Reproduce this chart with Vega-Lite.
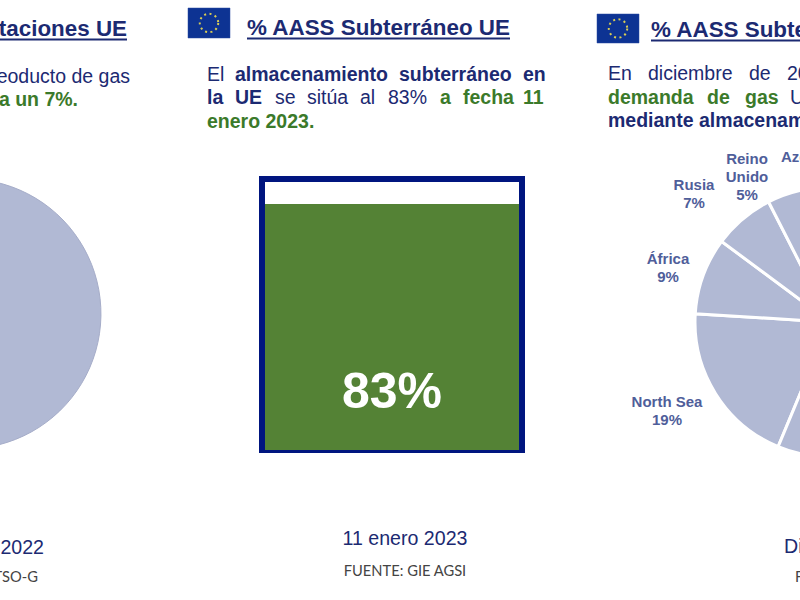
{"$schema":"https://vega.github.io/schema/vega-lite/v6.json","width":800,"height":600,"autosize":{"type":"none"},"padding":0,"background":"white","config":{"view":{"stroke":null},"text":{"font":"Liberation Sans"}},"datasets":{"flags":[{"at":188,"to":230,"line":8,"end":38},{"at":597,"to":639,"line":14,"end":43}],"rings":[{"at":209,"line":23},{"at":618,"line":28.5}],"underlines":[{"at":0,"to":127,"line":39.5},{"at":247,"to":510,"line":38.5},{"at":651,"to":810,"line":40.5}],"titlesL":[{"t":"% AASS Subterráneo UE","at":247,"line":28},{"t":"% AASS Subterráneo UE","at":651,"line":30}],"titlesR":[{"t":"% Importaciones UE","at":127,"line":29}],"navy":[{"t":"El","at":207,"line":75},{"t":"se","at":275,"line":98},{"t":"sitúa","at":307,"line":98},{"t":"al","at":360,"line":98},{"t":"83%","at":388,"line":98},{"t":"En","at":608,"line":74},{"t":"diciembre","at":648,"line":74},{"t":"de","at":749,"line":74},{"t":"2022","at":787,"line":74},{"t":"UE","at":790,"line":98}],"navyR":[{"t":"El gaseoducto de gas","at":130,"line":77}],"navyBold":[{"t":"almacenamiento","at":235,"line":75},{"t":"subterráneo","at":399,"line":75},{"t":"en","at":523,"line":75},{"t":"la","at":207,"line":98},{"t":"UE","at":235,"line":98},{"t":"mediante almacenamiento","at":608,"line":121}],"green":[{"t":"a","at":440,"line":98},{"t":"fecha","at":463,"line":98},{"t":"11","at":523,"line":98},{"t":"enero 2023.","at":207,"line":122},{"t":"demanda","at":608,"line":98},{"t":"de","at":707,"line":98},{"t":"gas","at":745,"line":98}],"greenR":[{"t":"representa un 7%.","at":78,"line":100}],"pieRight":[{"origen":"North Sea","from":0,"to":19.7},{"origen":"África","from":19.7,"to":28.9},{"origen":"Rusia","from":28.9,"to":36.2},{"origen":"Reino Unido","from":36.2,"to":41.2},{"origen":"Azerbaiyán","from":41.2,"to":100}],"pieLeft":[{"origen":"Total","from":0,"to":100}],"pieLabels":[{"t":"Reino","at":747,"line":159},{"t":"Unido","at":747,"line":177},{"t":"5%","at":747,"line":195},{"t":"Rusia","at":694,"line":185},{"t":"7%","at":694,"line":203},{"t":"África","at":668,"line":259},{"t":"9%","at":668,"line":277},{"t":"North Sea","at":667,"line":402},{"t":"19%","at":667,"line":420}],"pieLabelsL":[{"t":"Azerbaiyán","at":781,"line":157}],"datesC":[{"t":"11 enero 2023","at":405,"line":539}],"datesL":[{"t":"Diciembre 2022","at":784,"line":547}],"datesR":[{"t":"Diciembre 2022","at":44,"line":548}],"srcC":[{"t":"FUENTE: GIE AGSI","at":405,"line":572}],"srcL":[{"t":"FUENTE: ENTSO-G","at":795,"line":578}],"srcR":[{"t":"FUENTE: ENTSO-G","at":38,"line":578}],"frame":[{"at":262,"to":522,"line":179,"end":450}],"storage":[{"pct":83,"label":"83%"}]},"layer":[{"data":{"name":"pieLeft"},"mark":{"type":"arc","outerRadius":135,"innerRadius":0,"fill":"#b1b9d4","stroke":"#a6adc9","strokeWidth":1},"encoding":{"x":{"datum":-36,"type":"quantitative","scale":{"domain":[0,800],"nice":false,"zero":false},"axis":null},"y":{"datum":313,"type":"quantitative","scale":{"domain":[600,0],"nice":false,"zero":false},"axis":null},"theta":{"field":"from","type":"quantitative","stack":false,"scale":{"domain":[0,100],"range":[3.536,9.819]}},"theta2":{"field":"to"}}},{"data":{"name":"pieRight"},"mark":{"type":"arc","outerRadius":135,"innerRadius":0,"fill":"#b1b9d4","stroke":"white","strokeWidth":3},"encoding":{"x":{"datum":830,"type":"quantitative","scale":{"domain":[0,800],"nice":false,"zero":false},"axis":null},"y":{"datum":322,"type":"quantitative","scale":{"domain":[600,0],"nice":false,"zero":false},"axis":null},"theta":{"field":"from","type":"quantitative","stack":false,"scale":{"domain":[0,100],"range":[3.536,9.819]}},"theta2":{"field":"to"}}},{"encoding":{"x":{"field":"at","type":"quantitative","scale":{"domain":[0,800],"nice":false,"zero":false},"axis":null},"y":{"field":"line","type":"quantitative","scale":{"domain":[600,0],"nice":false,"zero":false},"axis":null}},"layer":[{"data":{"name":"flags"},"mark":{"type":"rect","fill":"#0d3393","stroke":"#2a4ba0","strokeWidth":0.5},"encoding":{"x2":{"field":"to"},"y2":{"field":"end"}}},{"data":{"name":"rings"},"mark":{"type":"point","shape":"circle","size":340,"filled":false,"stroke":"#d8cc55","strokeWidth":2,"strokeDash":[2,3.46],"opacity":1}},{"data":{"name":"underlines"},"mark":{"type":"rule","stroke":"#1c2a72","strokeWidth":2},"encoding":{"x2":{"field":"to"}}},{"data":{"name":"frame"},"mark":{"type":"rect","fill":"white","stroke":"#00157f","strokeWidth":6},"encoding":{"x2":{"field":"to"},"y2":{"field":"end"}}},{"data":{"name":"titlesL"},"mark":{"type":"text","align":"left","baseline":"middle","fontSize":22.4,"fontWeight":"bold","fill":"#1c2a72"},"encoding":{"text":{"field":"t"}}},{"data":{"name":"titlesR"},"mark":{"type":"text","align":"right","baseline":"middle","fontSize":22.4,"fontWeight":"bold","fill":"#1c2a72"},"encoding":{"text":{"field":"t"}}},{"data":{"name":"navy"},"mark":{"type":"text","align":"left","baseline":"middle","fontSize":19.5,"fill":"#1c2a72"},"encoding":{"text":{"field":"t"}}},{"data":{"name":"navyR"},"mark":{"type":"text","align":"right","baseline":"middle","fontSize":19.5,"fill":"#1c2a72"},"encoding":{"text":{"field":"t"}}},{"data":{"name":"navyBold"},"mark":{"type":"text","align":"left","baseline":"middle","fontSize":19.5,"fontWeight":"bold","fill":"#1c2a72"},"encoding":{"text":{"field":"t"}}},{"data":{"name":"green"},"mark":{"type":"text","align":"left","baseline":"middle","fontSize":19.5,"fontWeight":"bold","fill":"#3b7a2a"},"encoding":{"text":{"field":"t"}}},{"data":{"name":"greenR"},"mark":{"type":"text","align":"right","baseline":"middle","fontSize":19.5,"fontWeight":"bold","fill":"#3b7a2a"},"encoding":{"text":{"field":"t"}}},{"data":{"name":"pieLabels"},"mark":{"type":"text","align":"center","baseline":"middle","fontSize":15,"fontWeight":"bold","fill":"#4f5e9a"},"encoding":{"text":{"field":"t"}}},{"data":{"name":"pieLabelsL"},"mark":{"type":"text","align":"left","baseline":"middle","fontSize":15,"fontWeight":"bold","fill":"#4f5e9a"},"encoding":{"text":{"field":"t"}}},{"data":{"name":"datesC"},"mark":{"type":"text","align":"center","baseline":"middle","fontSize":19.6,"fill":"#1c2a72"},"encoding":{"text":{"field":"t"}}},{"data":{"name":"datesL"},"mark":{"type":"text","align":"left","baseline":"middle","fontSize":19.6,"fill":"#1c2a72"},"encoding":{"text":{"field":"t"}}},{"data":{"name":"datesR"},"mark":{"type":"text","align":"right","baseline":"middle","fontSize":19.6,"fill":"#1c2a72"},"encoding":{"text":{"field":"t"}}},{"data":{"name":"srcC"},"mark":{"type":"text","align":"center","baseline":"middle","font":"Lato","fontSize":14.7,"fill":"#444444"},"encoding":{"text":{"field":"t"}}},{"data":{"name":"srcL"},"mark":{"type":"text","align":"left","baseline":"middle","font":"Lato","fontSize":14.7,"fill":"#444444"},"encoding":{"text":{"field":"t"}}},{"data":{"name":"srcR"},"mark":{"type":"text","align":"right","baseline":"middle","font":"Lato","fontSize":14.7,"fill":"#444444"},"encoding":{"text":{"field":"t"}}}]},{"data":{"name":"storage"},"encoding":{"y":{"field":"pct","type":"quantitative","scale":{"domain":[0,100],"range":[450,153.6],"nice":false},"axis":null}},"layer":[{"mark":{"type":"bar","fill":"#548235"},"encoding":{"x":{"datum":265,"type":"quantitative","scale":{"domain":[0,800],"nice":false,"zero":false},"axis":null},"x2":{"datum":519},"y2":{"datum":0}}},{"mark":{"type":"text","align":"center","baseline":"middle","fontSize":50,"fontWeight":"bold","fill":"white"},"encoding":{"x":{"datum":392,"type":"quantitative","scale":{"domain":[0,800],"nice":false,"zero":false},"axis":null},"y":{"datum":19.3,"type":"quantitative","scale":{"domain":[0,100],"range":[450,153.6],"nice":false},"axis":null},"text":{"field":"label"}}}]}],"resolve":{"scale":{"y":"independent"}}}
